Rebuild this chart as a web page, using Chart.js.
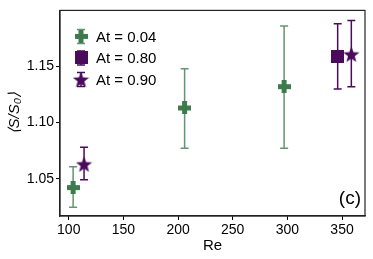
<!DOCTYPE html>
<html>
<head>
<meta charset="utf-8">
<script src="https://cdn.jsdelivr.net/npm/chart.js@4"></script>
<style>
  html, body { margin: 0; padding: 0; background: #fff; }
  #wrap { width: 373px; height: 259px; position: relative; }
</style>
</head>
<body>
<div id="wrap"><canvas id="chart" width="373" height="259"></canvas></div>
<script>
// At = 0.04
var reA = [104, 206, 297];
var sA = [1.042, 1.113, 1.132];
var loA = [1.0246, 1.077, 1.077];
var hiA = [1.0605, 1.148, 1.186];
// At = 0.80
var reB = [346];
var sB = [1.159];
var loB = [1.130];
var hiB = [1.188];
// At = 0.90
var reC = [114, 358.5];
var sC = [1.063, 1.161];
var loC = [1.049, 1.132];
var hiC = [1.078, 1.191];

var xTicks = [100, 150, 200, 250, 300, 350];
var yTicks = [1.05, 1.10, 1.15];
var labels = ["At = 0.04", "At = 0.80", "At = 0.90"];

var GREEN = "#3d7a4c";
var GREEN_BAR = "rgba(61, 122, 76, 0.8)";
var PURPLE = "#4a0b5c";
var FONT = "'Liberation Sans', Arial, sans-serif";

function plusCanvas(size, color) {
  var c = document.createElement("canvas");
  c.width = size; c.height = size;
  var g = c.getContext("2d");
  var t = size * 0.38;
  var o = (size - t) / 2;
  g.fillStyle = color;
  g.fillRect(o, 0, t, size);
  g.fillRect(0, o, size, t);
  return c;
}

function squareCanvas(size, color) {
  var c = document.createElement("canvas");
  c.width = size; c.height = size;
  var g = c.getContext("2d");
  g.fillStyle = color;
  g.fillRect(0, 0, size, size);
  return c;
}

function starCanvas(size, color) {
  var c = document.createElement("canvas");
  c.width = size; c.height = size;
  var g = c.getContext("2d");
  var cx = size / 2, cy = size / 2 + size * 0.05;
  var R = size / 2, r = R * 0.42;
  g.beginPath();
  for (var i = 0; i < 10; i++) {
    var rad = i % 2 === 0 ? R : r;
    var a = -Math.PI / 2 + i * Math.PI / 5;
    var px = cx + rad * Math.cos(a), py = cy + rad * Math.sin(a);
    if (i === 0) g.moveTo(px, py); else g.lineTo(px, py);
  }
  g.closePath();
  g.fillStyle = color;
  g.fill();
  return c;
}

var plusImg = plusCanvas(13, GREEN);
var squareImg = squareCanvas(13, PURPLE);
var starImg = starCanvas(17, PURPLE);

function pts(xs, ys) {
  return xs.map(function (x, i) { return { x: x, y: ys[i] }; });
}

var bars = [
  { x: reA, lo: loA, hi: hiA, color: GREEN_BAR },
  { x: reB, lo: loB, hi: hiB, color: PURPLE },
  { x: reC, lo: loC, hi: hiC, color: PURPLE }
];

var errorBars = {
  id: "errorBars",
  beforeDatasetsDraw: function (chart) {
    var ctx = chart.ctx;
    var xs = chart.scales.x, ys = chart.scales.y;
    ctx.save();
    ctx.lineWidth = 1.5;
    bars.forEach(function (b) {
      ctx.strokeStyle = b.color;
      b.x.forEach(function (xv, i) {
        var px = xs.getPixelForValue(xv);
        var y1 = ys.getPixelForValue(b.lo[i]);
        var y2 = ys.getPixelForValue(b.hi[i]);
        ctx.beginPath();
        ctx.moveTo(px, y1); ctx.lineTo(px, y2);
        ctx.moveTo(px - 4, y1); ctx.lineTo(px + 4, y1);
        ctx.moveTo(px - 4, y2); ctx.lineTo(px + 4, y2);
        ctx.stroke();
      });
    });
    ctx.restore();
  }
};

var frame = {
  id: "frame",
  afterDraw: function (chart) {
    var a = chart.chartArea, ctx = chart.ctx;
    ctx.save();
    ctx.strokeStyle = "#222";
    ctx.lineWidth = 1.2;
    ctx.strokeRect(a.left, a.top, a.right - a.left, a.bottom - a.top);

    // legend
    var imgs = [plusImg, squareImg, starImg];
    var cols = [GREEN_BAR, PURPLE, PURPLE];
    ctx.font = "15px " + FONT;
    ctx.textBaseline = "middle";
    for (var i = 0; i < 3; i++) {
      var lx = a.left + 21, ly = a.top + 26 + i * 21.5;
      ctx.strokeStyle = cols[i];
      ctx.lineWidth = 1.5;
      ctx.beginPath();
      ctx.moveTo(lx, ly - 7); ctx.lineTo(lx, ly + 7);
      ctx.moveTo(lx - 4, ly - 7); ctx.lineTo(lx + 4, ly - 7);
      ctx.moveTo(lx - 4, ly + 7); ctx.lineTo(lx + 4, ly + 7);
      ctx.stroke();
      var im = imgs[i];
      ctx.drawImage(im, lx - im.width / 2, ly - im.height / 2);
      ctx.fillStyle = "#000";
      ctx.fillText(labels[i], a.left + 36, ly + 1);
    }

    ctx.font = "19px " + FONT;
    ctx.textAlign = "right";
    ctx.fillText("(c)", a.right - 4, a.bottom - 17);
    ctx.restore();
  }
};

var ctx = document.getElementById("chart").getContext("2d");
new Chart(ctx, {
  type: "scatter",
  data: {
    datasets: [
      { label: labels[0], data: pts(reA, sA), pointStyle: plusImg },
      { label: labels[1], data: pts(reB, sB), pointStyle: squareImg },
      { label: labels[2], data: pts(reC, sC), pointStyle: starImg }
    ]
  },
  options: {
    responsive: false,
    animation: false,
    layout: { padding: { top: 7, right: 8, left: 0, bottom: 0 } },
    plugins: {
      legend: { display: false },
      tooltip: { enabled: false }
    },
    scales: {
      x: {
        type: "linear",
        min: 92,
        max: 371,
        afterBuildTicks: function (s) {
          s.ticks = xTicks.map(function (v) { return { value: v }; });
        },
        afterFit: function (s) { s.height = 43; },
        ticks: { color: "#000", font: { family: FONT, size: 14 }, padding: 2 },
        grid: { drawOnChartArea: false, drawTicks: true, tickLength: 4, color: "#000" },
        border: { color: "#222", width: 1.2 },
        title: { display: true, text: "Re", color: "#000", font: { family: FONT, size: 15 }, padding: { top: 0 } }
      },
      y: {
        type: "linear",
        min: 1.0167,
        max: 1.2,
        afterBuildTicks: function (s) {
          s.ticks = yTicks.map(function (v) { return { value: v }; });
        },
        afterFit: function (s) { s.width = 60; },
        ticks: {
          color: "#000",
          font: { family: FONT, size: 14 },
          padding: 2,
          callback: function (v) { return Number(v).toFixed(2); }
        },
        grid: { drawOnChartArea: false, drawTicks: true, tickLength: 4, color: "#000" },
        border: { color: "#222", width: 1.2 },
        title: { display: true, text: "⟨S/S₀⟩", color: "#000", font: { family: FONT, size: 15, style: "italic" }, padding: { top: 6, bottom: 0 } }
      }
    }
  },
  plugins: [errorBars, frame]
});
</script>
</body>
</html>
